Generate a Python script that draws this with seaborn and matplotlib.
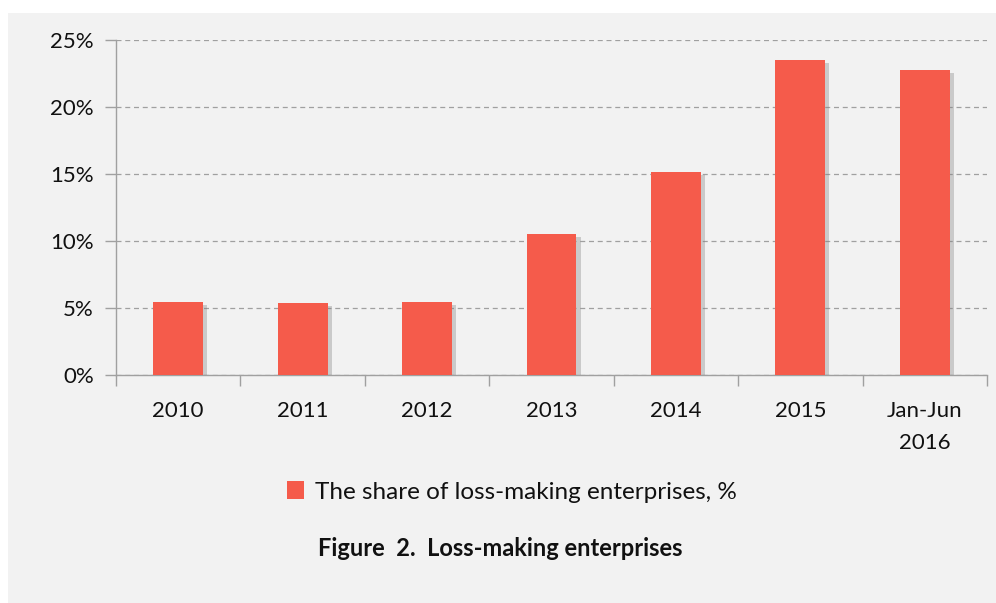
import matplotlib
matplotlib.use("Agg")
import matplotlib.pyplot as plt
import matplotlib.patheffects as pe
from matplotlib.patches import Rectangle
import seaborn as sns
import pandas as pd
import numpy as np

categories = ["2010", "2011", "2012", "2013", "2014", "2015", "Jan-Jun\n2016"]
values = [5.45, 5.37, 5.45, 10.5, 15.15, 23.5, 22.76]
y_ticks = [0, 5, 10, 15, 20, 25]
y_tick_labels = ["0%", "5%", "10%", "15%", "20%", "25%"]
legend_label = "The share of loss-making enterprises, %"
title = "Figure  2.  Loss-making enterprises"

bar_color = "#F55B4B"
bg = "#F2F2F2"

sns.set_theme(style="white")
plt.rcParams["font.family"] = ["Lato", "DejaVu Sans"]

fig = plt.figure(figsize=(9.96, 6.03), dpi=100)
fig.patch.set_facecolor("white")
fig.patches.append(Rectangle((8 / 996, 0), 1, 1 - 13 / 603, transform=fig.transFigure,
                             facecolor=bg, edgecolor="none", zorder=-10))

ax = fig.add_axes([116 / 996, 1 - 375 / 603, (987 - 116) / 996, (375 - 40) / 603])
ax.set_facecolor(bg)

df = pd.DataFrame({"cat": categories, "val": values})
sns.barplot(data=df, x="cat", y="val", color=bar_color, saturation=1, width=0.4, ax=ax,
            zorder=3)
for p in ax.patches:
    p.set_edgecolor("none")
    p.set_path_effects([pe.SimplePatchShadow(offset=(3, -2), shadow_rgbFace="#808080", alpha=0.35),
                        pe.Normal()])

ax.set_xlim(-0.5, len(categories) - 0.5)
ax.set_ylim(0, 25)
ax.set_yticks(y_ticks)
ax.set_yticklabels(y_tick_labels)
ax.yaxis.grid(True, linestyle=(0, (4, 3)), color="#A0A0A0", linewidth=0.9, zorder=0)
ax.set_axisbelow(True)
ax.set_xlabel("")
ax.set_ylabel("")

for s in ["top", "right"]:
    ax.spines[s].set_visible(False)
for s in ["left", "bottom"]:
    ax.spines[s].set_color("#A0A0A0")
    ax.spines[s].set_linewidth(1.0)

ax.tick_params(axis="y", which="major", length=8, width=1, color="#A0A0A0", left=True,
               labelsize=16, labelcolor="#111111", pad=8)
ax.tick_params(axis="x", which="major", length=0, labelsize=16, labelcolor="#111111", pad=19)
ax.set_xticks(np.arange(len(categories)))
ax.set_xticklabels(categories, linespacing=1.75)
ax.set_xticks(np.arange(-0.5, len(categories)), minor=True)
ax.tick_params(axis="x", which="minor", length=8, width=1, color="#A0A0A0", bottom=True)

leg = fig.legend(handles=[Rectangle((0, 0), 1, 1, facecolor=bar_color, edgecolor="none")],
                 labels=[legend_label], loc="center", bbox_to_anchor=(512 / 996, 1 - 492 / 603),
                 frameon=False, fontsize=17.5, handlelength=0.7, handleheight=0.7, handletextpad=0.45)
for t in leg.get_texts():
    t.set_color("#111111")

fig.text(500 / 996, 1 - 548 / 603, title, ha="center", va="center", fontsize=17,
         fontweight="bold", color="#111111")

fig.savefig("out.png", dpi=100, facecolor=fig.get_facecolor())
